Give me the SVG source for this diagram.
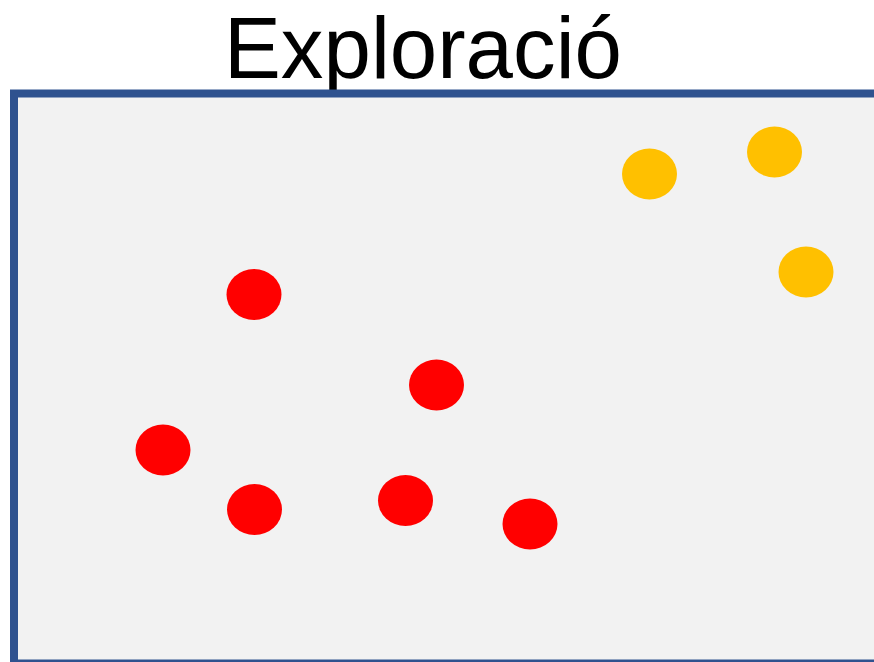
<svg xmlns="http://www.w3.org/2000/svg" width="874" height="662" viewBox="0 0 874 662">
<style>
.title{font-family:"Liberation Sans",Arial,sans-serif;font-size:87px;fill:#000}
.red{fill:#ff0000}
.yel{fill:#ffc000}
</style>
<rect width="874" height="662" fill="#ffffff"/>
<text class="title" x="423" y="78" text-anchor="middle" textLength="398" lengthAdjust="spacingAndGlyphs">Exploració</text>
<rect id="frame" x="14" y="93.5" width="880" height="570" fill="#f2f2f2" stroke="#2f528f" stroke-width="8"/>
<g id="red-points">
<ellipse id="r1" class="red" cx="254" cy="294.5" rx="27.5" ry="25.5"/>
<ellipse id="r2" class="red" cx="436.5" cy="385" rx="27.5" ry="25.5"/>
<ellipse id="r3" class="red" cx="163" cy="450" rx="27.5" ry="25.5"/>
<ellipse id="r4" class="red" cx="254.5" cy="509.5" rx="27.5" ry="25.5"/>
<ellipse id="r5" class="red" cx="405.5" cy="500.5" rx="27.5" ry="25.5"/>
<ellipse id="r6" class="red" cx="530" cy="524" rx="27.5" ry="25.5"/>
</g>
<g id="yellow-points">
<ellipse id="y1" class="yel" cx="649.5" cy="174" rx="27.5" ry="25.5"/>
<ellipse id="y2" class="yel" cx="774.5" cy="152" rx="27.5" ry="25.5"/>
<ellipse id="y3" class="yel" cx="806" cy="272" rx="27.5" ry="25.5"/>
</g>
<g id="connectors"/>
</svg>
